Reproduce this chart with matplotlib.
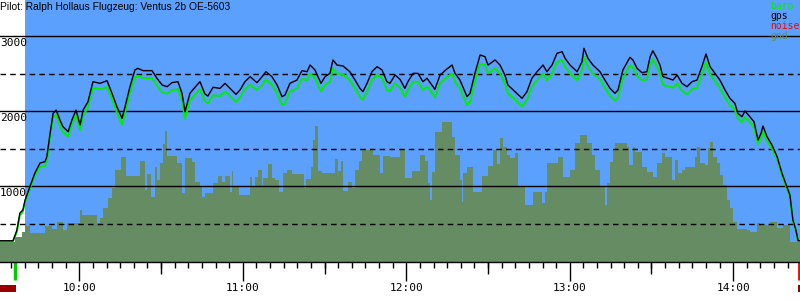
import matplotlib
matplotlib.use('Agg')
import matplotlib.pyplot as plt
import matplotlib.transforms as mtransforms

# time in minutes after 09:00, altitude in metres
gps_t = [30.9, 35.7, 37.1, 38.2, 39.3, 40.1, 41.9, 43.7, 45.6, 47.4, 48.1, 49.3, 50.4, 51.5, 52.9, 54.0,
         55.9, 57.3, 58.8, 60.3, 61.4, 63.2, 65.0, 67.6, 70.2, 72.0, 73.8, 75.7, 76.8, 78.6, 80.4, 81.5,
         83.4, 86.7, 88.5, 90.4, 92.2, 94.0, 96.2, 97.7, 98.8, 100.6, 103.2, 104.3, 106.1, 107.2, 109.1,
         111.6, 113.5, 115.3, 117.5, 119.0, 120.8, 122.7, 125.2, 127.1, 128.5, 130.7, 132.6, 134.4, 135.5,
         137.3, 139.9, 141.7, 143.6, 144.7, 146.5, 148.7, 150.2, 152.0, 153.1, 154.6, 156.8, 159.3, 161.2,
         163.0, 164.1, 165.6, 167.4, 169.3, 171.1, 172.9, 174.0, 175.9, 177.7, 179.5, 180.6, 182.5, 184.3,
         186.1, 187.6, 189.4, 190.5, 192.4, 194.9, 196.8, 197.9, 199.7, 202.3, 203.4, 205.2, 207.1, 208.9,
         210.0, 212.6, 214.4, 216.2, 217.3, 219.9, 222.5, 224.3, 226.1, 228.0, 230.2, 231.6, 233.5, 235.3,
         237.2, 238.3, 240.1, 242.7, 244.5, 245.2, 246.7, 248.5, 251.1, 252.9, 254.8, 256.6, 257.7, 259.5,
         262.1, 263.2, 264.7, 266.5, 268.3, 269.5, 270.5, 272.0, 273.1, 274.2, 276.1, 277.9, 279.4, 281.2,
         283.0, 284.9, 286.7, 288.5, 290.0, 291.5, 293.3, 295.1, 297.0, 298.8, 300.6, 301.7, 303.2, 304.3,
         306.1, 307.6, 309.1, 310.2, 310.9, 312.4, 314.2, 316.1, 317.9, 319.7, 320.8, 321.9, 323.0, 323.8,
         324.5]
gps_alt = [270, 270, 413, 640, 680, 813, 991, 1173, 1307, 1324, 1391, 1707, 1969, 2013, 1880, 1791,
           1724, 1880, 2013, 1813, 2013, 2124, 2391, 2369, 2404, 2236, 2058, 1902, 2058, 2324, 2547, 2569,
           2538, 2538, 2436, 2347, 2324, 2378, 2391, 2236, 1991, 2236, 2347, 2391, 2227, 2200, 2316,
           2302, 2369, 2302, 2222, 2280, 2391, 2458, 2378, 2458, 2524, 2458, 2347, 2191, 2213,
           2369, 2413, 2538, 2524, 2613, 2547, 2369, 2458, 2502, 2680, 2613, 2600, 2524, 2413,
           2302, 2258, 2369, 2524, 2591, 2547, 2391, 2369, 2480, 2422, 2302, 2391, 2502, 2502,
           2391, 2436, 2347, 2289, 2480, 2560, 2613, 2502, 2413, 2191, 2236, 2502, 2747, 2724,
           2613, 2680, 2613, 2480, 2347, 2258, 2169, 2258, 2436, 2524, 2613, 2524, 2613, 2769,
           2791, 2702, 2613, 2524, 2658, 2836, 2702, 2613, 2524, 2413, 2302, 2236, 2280, 2547,
           2716, 2680, 2569, 2511, 2524, 2724, 2804, 2702, 2613, 2458, 2436, 2413, 2480, 2369,
           2324, 2391, 2413, 2591, 2760, 2591, 2502, 2413, 2280, 2169, 2102, 1969, 1924, 2000,
           1924, 1858, 1613, 1702, 1800, 1658, 1547, 1391, 1169, 991, 880, 547, 413, 271,
           271]
baro_alt = [265, 265, 390, 610, 660, 790, 970, 1140, 1260, 1270, 1340, 1660, 1910, 1950, 1800, 1720,
            1660, 1820, 1950, 1740, 1940, 2050, 2310, 2290, 2320, 2160, 1980, 1820, 1980, 2240, 2450, 2470,
            2440, 2440, 2340, 2250, 2230, 2280, 2290, 2140, 1900, 2140, 2250, 2290, 2130, 2100, 2210,
            2200, 2260, 2200, 2120, 2180, 2290, 2350, 2280, 2350, 2420, 2350, 2240, 2080, 2100,
            2260, 2300, 2430, 2410, 2500, 2440, 2260, 2350, 2390, 2570, 2500, 2490, 2410, 2300,
            2190, 2150, 2260, 2410, 2480, 2440, 2280, 2260, 2370, 2310, 2190, 2280, 2390, 2390,
            2280, 2330, 2240, 2180, 2370, 2450, 2500, 2390, 2300, 2080, 2120, 2390, 2630, 2610,
            2500, 2570, 2500, 2370, 2240, 2150, 2060, 2150, 2320, 2410, 2500, 2410, 2500, 2650,
            2680, 2590, 2500, 2410, 2540, 2720, 2590, 2500, 2420, 2310, 2200, 2140, 2180, 2440,
            2610, 2580, 2470, 2410, 2420, 2610, 2690, 2590, 2500, 2350, 2330, 2310, 2370, 2270,
            2220, 2290, 2310, 2480, 2650, 2490, 2400, 2310, 2180, 2080, 2020, 1900, 1850, 1920,
            1850, 1780, 1560, 1640, 1730, 1600, 1500, 1360, 1140, 970, 860, 530, 400, 265,
            265]

gnd_t = [30.9, 36.4, 39.0, 40.1, 41.9, 47.4, 50.0, 51.8, 54.0, 55.5, 60.3, 61.0, 66.5, 67.6, 68.7, 70.5,
         72.0, 73.1, 75.3, 77.1, 82.3, 84.1, 84.8, 86.3, 87.8, 88.5, 89.6, 90.7, 91.5, 92.2, 95.9, 97.7,
         98.8, 101.4, 102.5,
         104.3, 105.0, 106.1, 109.1, 110.9, 112.4, 113.5, 115.3, 116.0, 116.4, 118.6, 122.7, 123.4, 124.5,
         125.6, 127.1, 127.4, 129.3, 130.7, 131.8, 133.3, 134.8, 136.2, 138.1, 142.5, 143.2, 145.0, 145.8,
         146.5, 147.6, 149.1, 153.8, 154.9, 156.0, 156.8, 158.6, 160.1, 161.2, 162.7, 163.8, 167.8, 170.4,
         171.5, 174.0,
         177.7, 179.5, 182.1, 185.0, 186.9, 188.0, 188.7, 189.4, 190.5, 193.1, 196.8, 197.9, 199.7, 200.5,
         200.8, 202.3, 204.5, 207.8, 210.0, 211.8, 213.3, 214.4, 215.5, 217.0, 218.1, 219.9, 221.0, 223.6,
         226.5, 229.8, 230.9, 231.6, 235.7, 237.5, 240.1, 241.9, 243.8, 246.3, 248.2, 249.3,
         251.1, 252.9, 253.7, 254.8, 255.9, 256.6, 261.0, 261.7, 263.2, 263.9, 266.5, 268.3, 270.5, 272.0,
         273.9, 275.0, 277.5, 278.6, 279.7, 281.2, 282.3, 284.1, 286.0, 286.7, 287.8, 289.6, 290.7, 291.5,
         292.6, 294.0, 295.1, 296.2, 297.7, 298.8, 299.9, 301.4, 305.0, 306.1, 308.7, 309.8, 313.5, 316.1,
         318.3, 320.8, 324.5]
gnd_alt = [258, 324, 391, 467, 378, 467, 422, 524, 413, 511, 680, 613, 502, 569, 711, 836,
           969, 1213, 1382, 1138, 1333, 947, 1156, 858, 1258, 1080, 1302, 1556, 1733, 1400, 1302, 902,
           1378, 1324, 1058,
           991, 858, 911, 1036, 1133, 1058, 1133, 924, 1200, 991, 880, 1124, 991, 1124,
           1213, 1013, 1111, 1293, 1111, 1080, 924, 1169, 1213, 1156, 969, 1089, 1258, 1613,
           1800, 1200, 1178, 1356, 1204, 1333, 933, 1058, 969, 1213, 1333, 1480, 1413, 1169,
           1400, 1391,
           1489, 1111, 1200, 1413, 1333, 1036, 813, 1191, 1724, 1858, 1649, 1413, 1080, 791,
           1169, 1258, 924, 1133, 1267, 1480, 1293, 1636, 1524, 1413, 1369, 1436, 991, 747,
           924, 769, 924, 1302, 1382, 1124, 1213, 1569, 1680, 1569, 1413, 1213,
           991, 747, 1036, 1324, 1480, 1569, 1524, 1280, 1524, 1458, 1258, 1191, 1124, 1302,
           1436, 1382, 1080, 1347, 1169, 1213, 1249, 1258, 1391, 1524, 1302, 1280, 1502, 1591,
           1391, 1302, 1147, 1013, 813, 702, 524, 422, 413, 391, 511, 480, 524, 436,
           480, 258, 258]

hour_ticks = [60, 120, 180, 240, 300]
hour_labels = ['10:00', '11:00', '12:00', '13:00', '14:00']
half_hours = [90, 150, 210, 270]
alt_labels = [1000, 2000, 3000]
alt_dashed = [500, 1500, 2500]
takeoff = 36.4
landing = 324.0
t_start, t_end = 30.9, 324.5

fig = plt.figure(figsize=(8, 3), dpi=100)
ax = fig.add_axes([0, 38 / 300, 1, 262 / 300])
ax.set_xlim(t_start, t_end)
ax.set_ylim(-13, 3480)
ax.set_facecolor('white')
ax.axvspan(40.1, t_end, color='#5aa0fc', zorder=0, lw=0)

ax.fill_between(gnd_t, -100, gnd_alt, step='post', color='#668c64', lw=0, zorder=1)

for a in alt_labels:
    ax.axhline(a, color='black', lw=1.0, zorder=2)
    ax.text(t_start, a - 25, str(a), va='top', ha='left', fontsize=8,
            family='DejaVu Sans Mono', zorder=5)
for a in alt_dashed:
    ax.axhline(a, color='black', lw=1.0, dashes=(4, 3), zorder=2)

ax.plot(gps_t, baro_alt, color='#00ee00', lw=1.4, zorder=3)
ax.plot(gps_t, gps_alt, color='black', lw=1.0, zorder=4)

for s in ['left', 'top', 'right']:
    ax.spines[s].set_visible(False)
ax.spines['bottom'].set_linewidth(1.0)
ax.set_yticks([])
ax.set_xticks(hour_ticks)
ax.set_xticklabels(hour_labels, family='DejaVu Sans Mono', fontsize=8)
ax.set_xticks(list(range(35, 325, 5)), minor=True)
ax.tick_params(axis='x', which='major', direction='out', length=14, width=1, pad=1)
ax.tick_params(axis='x', which='minor', direction='out', length=4.5, width=1)

trans = mtransforms.blended_transform_factory(ax.transData, ax.transAxes)
ax.vlines(half_hours, -12 / 262, 0, transform=trans, color='black', lw=1, clip_on=False)
ax.vlines([takeoff], -18 / 262, 0, transform=trans, color='#00cc00', lw=2.5, clip_on=False)
ax.vlines([landing], -18 / 262, 0, transform=trans, color='#ff0000', lw=2.0, clip_on=False)
ax.add_patch(plt.Rectangle((t_start, -30 / 262), takeoff + 0.5 - t_start, 7 / 262, transform=trans,
                           color='#990000', clip_on=False, lw=0))
ax.add_patch(plt.Rectangle((landing - 0.4, -30 / 262), 0.8, 7 / 262, transform=trans,
                           color='#990000', clip_on=False, lw=0))

fig.text(0.0, 1 - 7 / 300, 'Pilot: Ralph Hollaus Flugzeug: Ventus 2b OE-5603', va='center', ha='left',
         fontsize=7.4, family='Liberation Sans')
legend = [('baro', '#00ee00'), ('gps', 'black'), ('noise', '#ff0000'), ('gnd', '#668c64')]
for i, (name, col) in enumerate(legend):
    fig.text(770 / 800, 1 - (6 + 10 * i) / 300, name, color=col, va='center', ha='left',
             fontsize=7, family='DejaVu Sans Mono')

fig.savefig('out.png', dpi=100)
